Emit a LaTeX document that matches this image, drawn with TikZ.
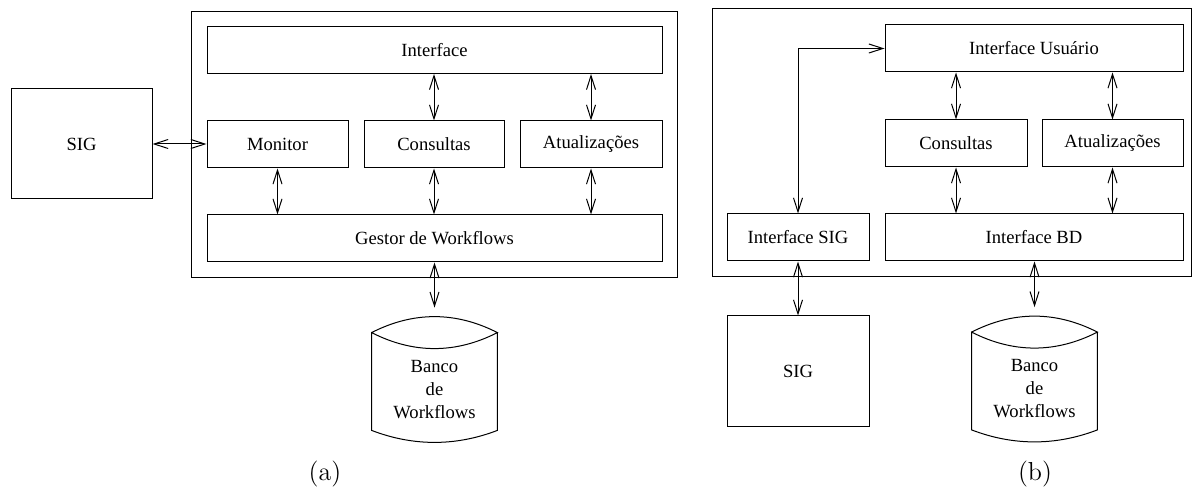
\documentclass[tikz,border=0pt]{standalone}
\usepackage{fontspec}
\newfontfamily\tnr{Liberation Serif}
\usetikzlibrary{arrows.meta,calc}

\tikzset{
  box/.style={draw, line width=0.5pt, inner sep=0pt, minimum height=23.5pt,
              font=\tnr\fontsize{9.3}{11.5}\selectfont},
  panel/.style={draw, line width=0.5pt, inner sep=0pt},
  db/.style={inner sep=0pt, align=center, minimum width=62.5pt, minimum height=40.5pt,
             font=\tnr\fontsize{9.3}{11.5}\selectfont},
  link/.style={line width=0.5pt,
               {Straight Barb[length=7pt,width=4.5pt]}-{Straight Barb[length=7pt,width=4.5pt]}},
  caption/.style={inner sep=0pt, font=\fontsize{13}{15}\selectfont}
}

\begin{document}
\begin{tikzpicture}[x=0.5pt, y=-0.5pt]
\useasboundingbox (0,0) rectangle (1192,491);

% === (a) ===
\node[panel, minimum width=243pt, minimum height=133pt] (frameA) at (434,145) {};
\node[box, minimum width=70.5pt, minimum height=55pt] (sigA) at (81.5,144) {SIG};
\node[box, minimum width=227.5pt] (ifA) at (434.5,50) {Interface};
\node[box, minimum width=70.5pt] (monitor) at (277.5,144.5) {Monitor};
\node[box, minimum width=70pt] (consA) at (434,144.5) {Consultas};
\node[box, minimum width=71pt] (atuA) at (591,144.5) {Atualizações};
\node[box, minimum width=227.5pt] (gestor) at (434.5,238.5) {Gestor de Workflows};
\node[db] (bancoA) at (434.5,389.5) {Banco\\de\\Workflows};
\coordinate (topA) at ([yshift=20.5pt]bancoA.north);

\draw[link] (sigA.east) -- (sigA.east -| monitor.west);
\draw[link] (consA.north) -- (consA.north |- ifA.south);
\draw[link] (atuA.north) -- (atuA.north |- ifA.south);
\draw[link] (monitor.south) -- (monitor.south |- gestor.north);
\draw[link] (consA.south) -- (consA.south |- gestor.north);
\draw[link] (atuA.south) -- (atuA.south |- gestor.north);
\draw[link] (topA |- gestor.south) -- (topA);

\node[caption] (capA) at (325,474.5) {(a)};

% === (b) ===
\node[panel, minimum width=239.5pt, minimum height=134pt] (frameB) at (951.5,143) {};
\node[box, minimum width=149pt] (ifU) at (1034,48.5) {Interface Usuário};
\node[box, minimum width=71pt] (consB) at (956,143.5) {Consultas};
\node[box, minimum width=70.5pt] (atuB) at (1112.5,143.5) {Atualizações};
\node[box, minimum width=71pt] (ifSIG) at (798,237.5) {Interface SIG};
\node[box, minimum width=149pt] (ifBD) at (1034,237.5) {Interface BD};
\node[box, minimum width=71pt, minimum height=55pt] (sigB) at (798,371) {SIG};
\node[db] (bancoB) at (1034.5,389) {Banco\\de\\Workflows};
\coordinate (topB) at ([yshift=20.5pt]bancoB.north);

\draw[link] (ifSIG.north) |- (ifU.west);
\draw[link] (consB.north) -- (consB.north |- ifU.south);
\draw[link] (atuB.north) -- (atuB.north |- ifU.south);
\draw[link] (consB.south) -- (consB.south |- ifBD.north);
\draw[link] (atuB.south) -- (atuB.south |- ifBD.north);
\draw[link] (ifSIG.south) -- (sigB.north);
\draw[link] (topB |- ifBD.south) -- (topB);

\node[caption] (capB) at (1035,474.5) {(b)};

% cylinders
\foreach \b in {bancoA,bancoB}{
  \coordinate (tl) at ($(\b.north west)+(0,-16)$);
  \coordinate (tr) at ($(\b.north east)+(0,-16)$);
  \draw[line width=0.5pt] (tl) .. controls +(41.7,-21.3) and +(-41.7,-21.3) .. (tr)
        .. controls +(-41.7,21.3) and +(41.7,21.3) .. (tl)
        -- (\b.south west) .. controls +(41.7,16) and +(-41.7,16) .. (\b.south east) -- (tr);
}
\end{tikzpicture}
\end{document}
